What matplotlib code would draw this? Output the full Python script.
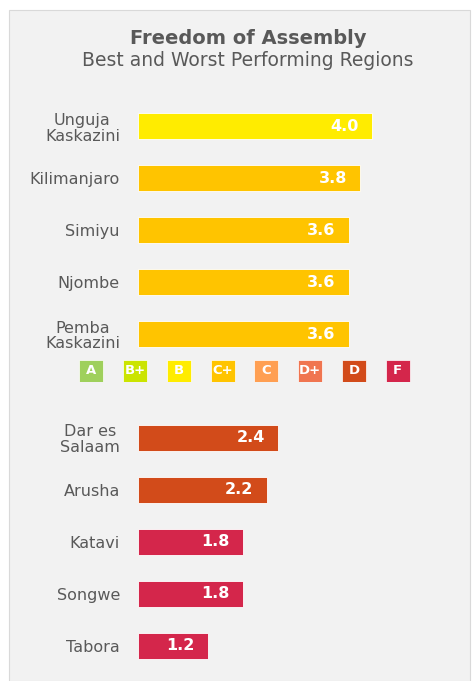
import numpy as np
import matplotlib
matplotlib.use("Agg")
import matplotlib.pyplot as plt
from matplotlib.patches import Rectangle

# data
regions = ['Unguja\nKaskazini', 'Kilimanjaro', 'Simiyu', 'Njombe', 'Pemba\nKaskazini',
           'Dar es\nSalaam', 'Arusha', 'Katavi', 'Songwe', 'Tabora']
scores = [4.0, 3.8, 3.6, 3.6, 3.6, 2.4, 2.2, 1.8, 1.8, 1.2]
region_grades = ['B', 'C+', 'C+', 'C+', 'C+', 'D', 'D', 'F', 'F', 'F']

grades = ['A', 'B+', 'B', 'C+', 'C', 'D+', 'D', 'F']
grade_colors = ['#9fd05c', '#cbe400', '#ffec00', '#ffc400', '#ff9f52', '#f07550', '#d24b1a', '#d4264b']
color_of = dict(zip(grades, grade_colors))

W, H = 472, 681
fig = plt.figure(figsize=(W / 100, H / 100), dpi=100, facecolor='white')

# grey panel behind everything
fig.patches.append(Rectangle((9 / W, 0), 461 / W, (H - 10) / H, transform=fig.transFigure,
                             facecolor='#f2f2f2', edgecolor='#d9d9d9', linewidth=0.8, zorder=-5))

fig.text(248 / W, 1 - 38 / H, 'Freedom of Assembly', ha='center', va='center',
         fontsize=14, fontweight='bold', color='#595959')
fig.text(248 / W, 1 - 60 / H, 'Best and Worst Performing Regions', ha='center', va='center',
         fontsize=13.5, color='#595959')

# main bars: top five at 0..4, bottom five at 6..10 (gap for the grade key)
ypos = list(range(5)) + list(range(6, 11))
ax = fig.add_axes([138 / W, 9 / H, 332 / W, 572 / H])
ax.set_facecolor('none')
colors = [color_of[g] for g in region_grades]
ax.barh(ypos, scores, height=0.5, color=colors, edgecolor='white', linewidth=0.6)
for y, s in zip(ypos, scores):
    ax.text(s - 0.47, y, f'{s:.1f}', ha='center', va='center', color='white',
            fontsize=11.5, fontweight='bold')

ax.set_xlim(0, 332 / 58.5)
ax.set_ylim(10.51, -0.51)
ax.set_yticks(ypos)
ax.set_yticklabels(regions, fontsize=11.5, color='#595959', linespacing=1.05)
for t in ax.get_yticklabels():
    t.set_multialignment('center')
ax.tick_params(axis='y', length=0, pad=13)
ax.set_xticks([])
for sp in ax.spines.values():
    sp.set_visible(False)

# grade key
lax = fig.add_axes([69.5 / W, 1 - 382 / H, 350 / W, 22 / H])
lax.set_facecolor('none')
kx = np.arange(len(grades))
lax.bar(kx, [1] * len(grades), width=0.55, bottom=0, color=grade_colors,
        edgecolor='white', linewidth=0.5)
for x, g in zip(kx, grades):
    lax.text(x, 0.5, g, ha='center', va='center', color='white', fontsize=9.5, fontweight='bold')
lax.set_xlim(-0.5, len(grades) - 0.5)
lax.set_ylim(0, 1)
lax.axis('off')

fig.savefig('out.png', dpi=100, facecolor=fig.get_facecolor())
